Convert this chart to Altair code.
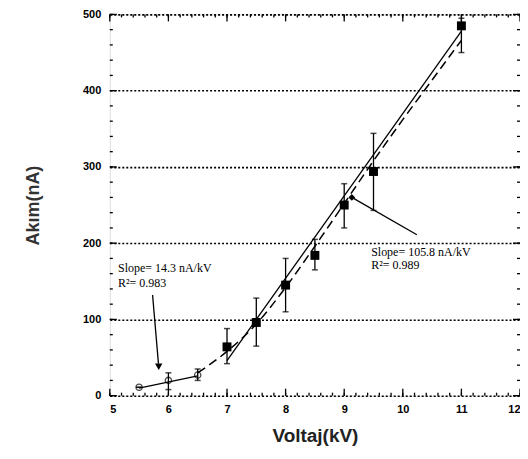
import altair as alt
import pandas as pd

# --- data ---
open_x = [5.5, 6.0, 6.5]
open_y = [11, 20, 27]
open_lo = [11, 8, 20]
open_hi = [11, 30, 35]

sq_x = [7.0, 7.5, 8.0, 8.5, 9.0, 9.5, 11.0]
sq_y = [64, 96, 145, 184, 250, 294, 485]
sq_lo = [42, 65, 110, 165, 220, 243, 450]
sq_hi = [88, 128, 180, 205, 278, 344, 495]

fit_lo_x = [5.5, 6.5]
fit_lo_y = [10, 26]
fit_hi_x = [7.0, 11.0]
fit_hi_y = [46, 478]

dash_x = [6.5, 7.0, 7.5, 8.0, 8.5, 9.0, 9.5, 10.0, 10.5, 11.0]
dash_y = [30, 58, 94, 142, 196, 252, 308, 362, 414, 466]

x_major = [5, 6, 7, 8, 9, 10, 11, 12]
x_minor = [round(5 + 0.2 * i, 1) for i in range(36)]
y_major = [0, 100, 200, 300, 400, 500]
y_minor = list(range(0, 501, 20))

ann_x = [5.14, 5.14, 9.46, 9.46]
ann_y = [167, 148, 188, 171]
ann_t = ["Slope= 14.3 nA/kV", "R²= 0.983", "Slope= 105.8 nA/kV", "R²= 0.989"]

W, H = 411, 382

xs = alt.Scale(domain=[5, 12], nice=False)
ys = alt.Scale(domain=[0, 500], nice=False)

err_df = pd.DataFrame({"x": open_x + sq_x, "lo": open_lo + sq_lo, "hi": open_hi + sq_hi})
open_df = pd.DataFrame({"x": open_x, "y": open_y})
sq_df = pd.DataFrame({"x": sq_x, "y": sq_y})
fit_lo_df = pd.DataFrame({"x": fit_lo_x, "y": fit_lo_y})
fit_hi_df = pd.DataFrame({"x": fit_hi_x, "y": fit_hi_y})
dash_df = pd.DataFrame({"x": dash_x, "y": dash_y})

base_x = alt.X("x:Q", scale=xs, title="Voltaj(kV)",
               axis=alt.Axis(values=x_major, format="d", ticks=False, domain=False, grid=False,
                             labelFont="Liberation Sans", labelFontWeight="bold",
                             labelFontSize=11, labelColor="black", labelPadding=8,
                             titleFont="Liberation Sans", titleFontWeight="bold",
                             titleFontSize=19, titleColor="#222", titlePadding=12))
base_y = alt.Y("y:Q", scale=ys, title="Akım(nA)",
               axis=alt.Axis(values=y_major, format="d", ticks=False, domain=False, grid=True,
                             gridDash=[2, 2], gridColor="black", gridWidth=1.6,
                             labelFont="Liberation Sans", labelFontWeight="bold",
                             labelFontSize=11, labelColor="black", labelPadding=9,
                             titleFont="Liberation Sans", titleFontWeight="bold",
                             titleFontSize=18, titleColor="#333", titlePadding=40))

grid_layer = alt.Chart(pd.DataFrame({"x": [5], "y": [0]})).mark_point(opacity=0).encode(x=base_x, y=base_y)

def xq():
    return alt.X("x:Q", scale=xs)

def yq(f="y"):
    return alt.Y(f + ":Q", scale=ys)

fit_lo = alt.Chart(fit_lo_df).mark_line(color="black", strokeWidth=1.3).encode(x=xq(), y=yq())
fit_hi = alt.Chart(fit_hi_df).mark_line(color="black", strokeWidth=1.3).encode(x=xq(), y=yq())
dash = alt.Chart(dash_df).mark_line(color="black", strokeWidth=1.5, strokeDash=[9, 5],
                                    interpolate="monotone").encode(x=xq(), y=yq())

err = alt.Chart(err_df).mark_rule(color="black", strokeWidth=1.3).encode(x=xq(), y=yq("lo"), y2="hi:Q")
cap_lo = alt.Chart(err_df).mark_tick(color="black", size=6, thickness=1.5, orient="horizontal").encode(x=xq(), y=yq("lo"))
cap_hi = alt.Chart(err_df).mark_tick(color="black", size=6, thickness=1.5, orient="horizontal").encode(x=xq(), y=yq("hi"))

opens = alt.Chart(open_df).mark_point(shape="circle", filled=False, color="black", size=40,
                                      strokeWidth=1.3).encode(x=xq(), y=yq())
squares = alt.Chart(sq_df).mark_square(color="black", size=80, opacity=1).encode(x=xq(), y=yq())

# annotation arrows
arr1 = alt.Chart(pd.DataFrame({"x": [9.13, 10.24], "y": [260, 211]})).mark_line(
    color="black", strokeWidth=1.3).encode(x=xq(), y=yq())
arr1_head = alt.Chart(pd.DataFrame({"x": [9.13], "y": [260]})).mark_point(
    shape="diamond", filled=True, color="black", size=45, opacity=1).encode(x=xq(), y=yq())
arr2 = alt.Chart(pd.DataFrame({"x": [5.73, 5.83], "y": [132, 42]})).mark_line(
    color="black", strokeWidth=1.3).encode(x=xq(), y=yq())
arr2_head = alt.Chart(pd.DataFrame({"x": [5.835], "y": [38]})).mark_point(
    shape="triangle-down", filled=True, color="black", size=55, opacity=1).encode(x=xq(), y=yq())

txt_df = pd.DataFrame({"x": ann_x, "y": ann_y, "t": ann_t})
texts = alt.Chart(txt_df).mark_text(font="Liberation Serif", fontSize=12, align="left",
                                    baseline="middle", color="black").encode(x=xq(), y=yq(), text="t:N")

# inward ticks on all four sides
xmaj = pd.DataFrame({"x": x_major})
xmin = pd.DataFrame({"x": x_minor})
ymaj = pd.DataFrame({"y": y_major})
ymin = pd.DataFrame({"y": y_minor})
tk = dict(color="black", strokeWidth=1.3)
t_xb = alt.Chart(xmaj).mark_rule(**tk).encode(x=xq(), y=alt.value(H), y2=alt.value(H - 7))
t_xt = alt.Chart(xmaj).mark_rule(**tk).encode(x=xq(), y=alt.value(0), y2=alt.value(7))
m_xb = alt.Chart(xmin).mark_rule(**tk).encode(x=xq(), y=alt.value(H), y2=alt.value(H - 3))
m_xt = alt.Chart(xmin).mark_rule(**tk).encode(x=xq(), y=alt.value(0), y2=alt.value(3))
t_yl = alt.Chart(ymaj).mark_rule(**tk).encode(y=yq(), x=alt.value(0), x2=alt.value(7))
t_yr = alt.Chart(ymaj).mark_rule(**tk).encode(y=yq(), x=alt.value(W), x2=alt.value(W - 7))
m_yl = alt.Chart(ymin).mark_rule(**tk).encode(y=yq(), x=alt.value(0), x2=alt.value(3))
m_yr = alt.Chart(ymin).mark_rule(**tk).encode(y=yq(), x=alt.value(W), x2=alt.value(W - 3))

chart = alt.layer(
    grid_layer, t_xb, t_xt, m_xb, m_xt, t_yl, t_yr, m_yl, m_yr,
    dash, fit_lo, fit_hi, err, cap_lo, cap_hi, opens, squares,
    arr1, arr1_head, arr2, arr2_head, texts,
).properties(
    width=W, height=H,
    autosize=alt.AutoSizeParams(type="none"),
    padding={"left": 102, "top": 6, "right": 0, "bottom": 55},
).configure_view(stroke="black", strokeWidth=2).configure(background="white")

chart.save("out.html", embed_options={"renderer": "svg", "actions": False})
